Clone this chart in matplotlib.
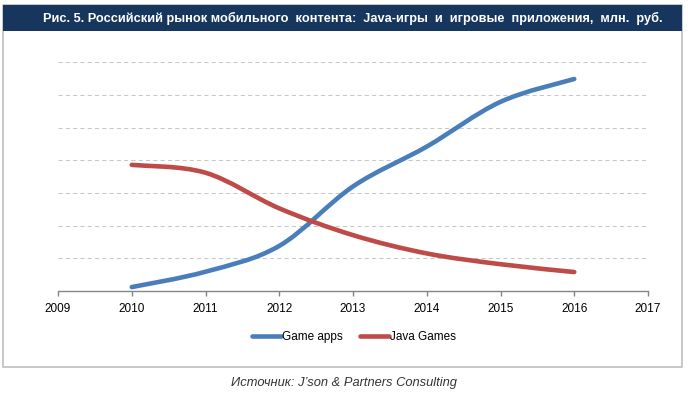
import numpy as np
import matplotlib
matplotlib.use("Agg")
import matplotlib.pyplot as plt
from matplotlib.path import Path
from matplotlib.patches import PathPatch, Rectangle
from matplotlib.lines import Line2D

plt.rcParams['font.family'] = ['Liberation Sans', 'DejaVu Sans']

# data (in grid units)
years = [2010, 2011, 2012, 2013, 2014, 2015, 2016]
game_apps = [0.12, 0.59, 1.38, 3.2, 4.42, 5.79, 6.49]
java_games = [3.86, 3.62, 2.53, 1.71, 1.15, 0.82, 0.58]
xticks = [2009, 2010, 2011, 2012, 2013, 2014, 2015, 2016, 2017]

title = "Рис. 5. Российский рынок мобильного  контента:  Java-игры  и  игровые  приложения,  млн.  руб."
source = "Источник: J’son & Partners Consulting"

BLUE = "#4a7ebb"
RED = "#be4b48"


def smooth_path(x, y):
    # Excel-style smoothed line: Catmull-Rom segments as cubic Beziers
    pts = np.column_stack([x, y]).astype(float)
    verts = [pts[0]]
    codes = [Path.MOVETO]
    n = len(pts)
    for i in range(n - 1):
        p0 = pts[i - 1] if i > 0 else pts[i]
        p1 = pts[i]
        p2 = pts[i + 1]
        p3 = pts[i + 2] if i + 2 < n else pts[i + 1]
        c1 = p1 + (p2 - p0) / 6.0
        c2 = p2 - (p3 - p1) / 6.0
        verts += [c1, c2, p2]
        codes += [Path.CURVE4] * 3
    return Path(verts, codes)


W, H = 688, 394
fig = plt.figure(figsize=(W / 100, H / 100), dpi=100)

# frame and title bar
fig.patches.append(Rectangle((3 / W, 1 - 367 / H), 679 / W, 362 / H,
                             transform=fig.transFigure, facecolor="none",
                             edgecolor="#bfbfbf", lw=1.2, zorder=-2))
fig.patches.append(Rectangle((3 / W, 1 - 31 / H), 679 / W, 26 / H,
                             transform=fig.transFigure, facecolor="#17365d",
                             edgecolor="none", zorder=-1))
fig.text(353 / W, 1 - 18 / H, title, color="white", fontsize=9.2,
         fontweight="bold", ha="center", va="center")

ax = fig.add_axes([58 / W, 1 - 291 / H, 590 / W, (291 - 62.3) / H])
ax.set_xlim(2009, 2017)
ax.set_ylim(0, 7)
ax.set_facecolor("none")

for g in range(1, 8):
    ax.axhline(g, color="#c8c8c8", lw=0.75, ls=(0, (4, 3)), zorder=1)

for ys, c in [(game_apps, BLUE), (java_games, RED)]:
    ax.add_patch(PathPatch(smooth_path(years, ys), facecolor="none",
                           edgecolor=c, lw=3.3, capstyle="round",
                           joinstyle="round", zorder=3))

for s in ["left", "right", "top"]:
    ax.spines[s].set_visible(False)
ax.spines["bottom"].set_color("#868686")
ax.spines["bottom"].set_linewidth(1.0)
ax.set_xticks(xticks)
ax.set_xticklabels([str(t) for t in xticks])
ax.set_yticks([])
ax.tick_params(axis="x", direction="out", length=3.8, width=1.0,
               color="#868686", labelsize=8.5, pad=5, labelcolor="black")

handles = [Line2D([], [], color=BLUE, lw=3.3, solid_capstyle="round"),
           Line2D([], [], color=RED, lw=3.3, solid_capstyle="round")]
fig.legend(handles, ["Game apps", "Java Games"], loc="center",
           bbox_to_anchor=(354 / W, 1 - 337 / H), ncol=2, frameon=False,
           fontsize=8.5, handlelength=2.5, handletextpad=0.1,
           columnspacing=1.4)

fig.text(344 / W, 1 - 383 / H, source, fontsize=9.3, style="italic",
         color="#333333", ha="center", va="center")

fig.savefig("out.png", dpi=100)
